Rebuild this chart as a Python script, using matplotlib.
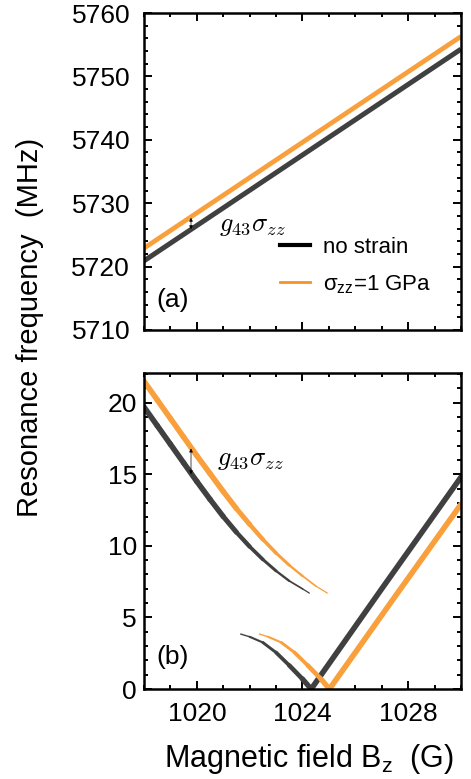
import numpy as np
import matplotlib
matplotlib.use('Agg')
import matplotlib.pyplot as plt
from matplotlib.collections import LineCollection
from matplotlib.lines import Line2D
from matplotlib.ticker import MultipleLocator

plt.rcParams['font.family'] = ['Liberation Sans', 'DejaVu Sans']
plt.rcParams['mathtext.fontset'] = 'custom'
plt.rcParams['mathtext.rm'] = 'Liberation Sans'
plt.rcParams['mathtext.it'] = 'Liberation Sans:italic'

# (a) high-frequency transition, MHz vs G
top_field = [1018.0, 1030.0]
top_nostrain = [5720.9, 5754.3]
top_strain = [5722.9, 5756.3]

# (b) low-frequency transitions near the anticrossing
b_up_field = [1018.0, 1018.5, 1019.0, 1019.5, 1020.0, 1020.5, 1021.0, 1021.5,
              1022.0, 1022.5, 1023.0, 1023.5, 1024.0, 1024.26]
b_up_freq = [19.70, 18.40, 17.10, 15.80, 14.50, 13.25, 12.05, 10.95,
             9.95, 9.05, 8.25, 7.55, 7.00, 6.70]
b_up_strength = [1.0, 1.0, 1.0, 1.0, 1.0, 1.0, 0.95, 0.85,
                 0.72, 0.6, 0.48, 0.36, 0.26, 0.2]

o_up_field = [1018.0, 1018.5, 1019.0, 1019.5, 1020.0, 1020.5, 1021.0, 1021.5,
              1022.0, 1022.5, 1023.0, 1023.5, 1024.0, 1024.5, 1024.94]
o_up_freq = [21.50, 20.20, 18.90, 17.60, 16.30, 15.05, 13.80, 12.60,
             11.50, 10.45, 9.50, 8.65, 7.90, 7.20, 6.70]
o_up_strength = [1.0, 1.0, 1.0, 1.0, 1.0, 1.0, 1.0, 0.95,
                 0.85, 0.72, 0.6, 0.48, 0.36, 0.26, 0.2]

b_low_field = [1021.66, 1022.0, 1022.5, 1023.0, 1023.5, 1024.0, 1024.33]
b_low_freq = [3.84, 3.65, 3.25, 2.55, 1.65, 0.70, 0.0]
b_low_strength = [0.2, 0.3, 0.45, 0.6, 0.75, 0.9, 1.0]

o_low_field = [1022.37, 1022.7, 1023.2, 1023.7, 1024.2, 1024.7, 1025.02]
o_low_freq = [3.84, 3.65, 3.25, 2.55, 1.65, 0.70, 0.0]
o_low_strength = [0.2, 0.3, 0.45, 0.6, 0.75, 0.9, 1.0]

b_rise_field = [1024.33, 1027.0, 1030.0]
b_rise_freq = [0.0, 7.0, 14.8]
o_rise_field = [1025.02, 1027.5, 1030.0]
o_rise_freq = [0.0, 6.45, 12.9]

dark = '#404040'
orange = '#f9a03c'
lw = 4.0


def tapered(ax, x, y, s, color):
    pts = np.column_stack([x, y])
    segs = np.stack([pts[:-1], pts[1:]], axis=1)
    s = np.asarray(s)
    widths = lw * (s[:-1] + s[1:]) / 2
    lc = LineCollection(segs, colors=color, linewidths=widths, capstyle='round')
    ax.add_collection(lc)


def style(ax):
    for sp in ax.spines.values():
        sp.set_linewidth(1.8)
    ax.tick_params(which='both', direction='in', top=True, right=True, width=1.4)
    ax.tick_params(which='major', length=5.5, labelsize=19)
    ax.tick_params(which='minor', length=3)
    ax.xaxis.set_major_locator(MultipleLocator(4))
    ax.xaxis.set_minor_locator(MultipleLocator(1))
    ax.set_xlim(1018, 1030)


fig = plt.figure(figsize=(4.71, 7.79), dpi=100)
ax1 = fig.add_axes([0.3057, 0.5764, 0.673, 0.4069])
ax2 = fig.add_axes([0.3057, 0.1155, 0.673, 0.4056])

# panel (a)
ax1.plot(top_field, top_nostrain, color=dark, lw=3.6, solid_capstyle='butt')
ax1.plot(top_field, top_strain, color=orange, lw=3.4, solid_capstyle='butt')
style(ax1)
ax1.set_ylim(5710, 5760)
ax1.yaxis.set_major_locator(MultipleLocator(10))
ax1.yaxis.set_minor_locator(MultipleLocator(2))
ax1.tick_params(axis='y', which='major', pad=10)
ax1.tick_params(axis='x', which='both', labelbottom=False)
ax1.annotate('', xy=(1019.78, 5727.7), xytext=(1019.78, 5725.9),
             arrowprops=dict(arrowstyle='<|-|>', color='black', lw=0.5,
                             mutation_scale=5, shrinkA=0, shrinkB=0))
ax1.text(1020.85, 5726.4, r'$g_{43}\sigma_{zz}$', fontsize=19, va='center',
         ha='left', math_fontfamily='cm')
handles = [Line2D([], [], color='black', lw=3),
           Line2D([], [], color='#f7931e', lw=2)]
ax1.legend(handles, ['no strain', r'$\mathrm{\sigma_{zz}}$=1 GPa'],
           loc='lower left', bbox_to_anchor=(0.365, 0.045), frameon=False,
           fontsize=16, handlelength=1.35, handletextpad=0.6, labelspacing=0.7)
ax1.text(0.04, 0.095, '(a)', transform=ax1.transAxes, fontsize=19, va='center')

# panel (b)
tapered(ax2, b_up_field, b_up_freq, b_up_strength, dark)
tapered(ax2, b_low_field, b_low_freq, b_low_strength, dark)
ax2.plot(b_rise_field, b_rise_freq, color=dark, lw=lw, solid_capstyle='round')
tapered(ax2, o_up_field, o_up_freq, o_up_strength, orange)
tapered(ax2, o_low_field, o_low_freq, o_low_strength, orange)
ax2.plot(o_rise_field, o_rise_freq, color=orange, lw=lw, solid_capstyle='round')
style(ax2)
ax2.set_ylim(0, 22.07)
ax2.yaxis.set_major_locator(MultipleLocator(5))
ax2.yaxis.set_minor_locator(MultipleLocator(1))
ax2.tick_params(axis='y', which='major', pad=5)
ax2.tick_params(axis='x', which='major', pad=9)
ax2.annotate('', xy=(1019.78, 16.8), xytext=(1019.78, 15.0),
             arrowprops=dict(arrowstyle='<|-|>', color='black', lw=0.5,
                             mutation_scale=5, shrinkA=0, shrinkB=0))
ax2.text(1020.75, 16.0, r'$g_{43}\sigma_{zz}$', fontsize=19, va='center',
         ha='left', math_fontfamily='cm')
ax2.text(0.04, 0.10, '(b)', transform=ax2.transAxes, fontsize=19, va='center')
ax2.set_xlabel(r'Magnetic field B$_\mathrm{z}$  (G)', fontsize=22)
ax2.xaxis.set_label_coords(0.52, -0.168)

fig.text(0.064, 0.58, 'Resonance frequency  (MHz)', rotation=90, fontsize=21,
         ha='center', va='center')

fig.savefig('out.png', dpi=100)
